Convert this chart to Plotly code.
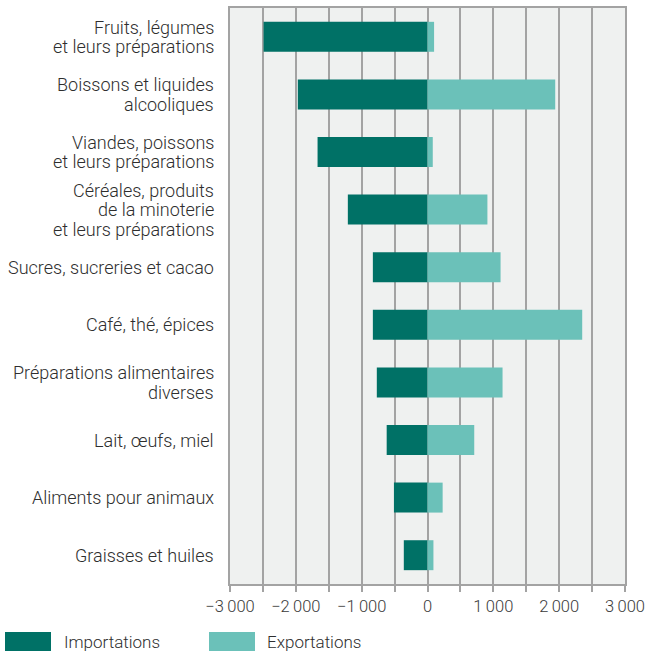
import plotly.graph_objects as go

categories = [
    "Fruits, légumes\net leurs préparations",
    "Boissons et liquides\nalcooliques",
    "Viandes, poissons\net leurs préparations",
    "Céréales, produits\nde la minoterie\net leurs préparations",
    "Sucres, sucreries et cacao",
    "Café, thé, épices",
    "Préparations alimentaires\ndiverses",
    "Lait, œufs, miel",
    "Aliments pour animaux",
    "Graisses et huiles",
]
importations = [-2490, -1970, -1670, -1210, -830, -830, -770, -620, -510, -360]
exportations = [100, 1940, 80, 910, 1110, 2350, 1140, 710, 230, 90]

tick_vals = [-3000, -2500, -2000, -1500, -1000, -500, 0, 500, 1000, 1500, 2000, 2500, 3000]
tick_text = ["−3\u2009000", "", "−2\u2009000", "", "−1\u2009000", "", "0", "",
             "1\u2009000", "", "2\u2009000", "", "3\u2009000"]

IMP = "#007166"
EXP = "#6bc1b9"
GRID = "#a3a3a3"
TXT = "#2e2e2e"

PL, PR, PT, PB = 230, 625, 8, 584  # plot area in page px
W, H = 648, 651

fig = go.Figure()
fig.add_trace(go.Bar(y=categories, x=importations, orientation="h", name="Importations",
                     marker=dict(color=IMP, line=dict(width=0)), width=0.52))
fig.add_trace(go.Bar(y=categories, x=exportations, orientation="h", name="Exportations",
                     marker=dict(color=EXP, line=dict(width=0)), width=0.52))

fig.update_layout(
    width=W, height=H,
    barmode="relative",
    showlegend=False,
    paper_bgcolor="white",
    plot_bgcolor="#eff1f0",
    margin=dict(l=PL, r=W - PR, t=PT, b=H - PB, pad=0),
    font=dict(family="Roboto, sans-serif", size=16, color=TXT, weight=300),
    xaxis=dict(
        range=[-3000, 3000],
        tickvals=tick_vals, ticktext=tick_text,
        showgrid=True, gridcolor=GRID, gridwidth=1.5,
        zeroline=False, automargin=False,
        showline=True, linecolor=GRID, linewidth=2, mirror=True,
        ticks="outside", ticklen=6, tickcolor=GRID, tickwidth=1.5,
        tickfont=dict(size=16.5, color="#3a3a3a", weight=300),
    ),
    yaxis=dict(
        autorange="reversed",
        showgrid=False, zeroline=False, automargin=False,
        showline=True, linecolor=GRID, linewidth=2, mirror=True,
        ticks="", showticklabels=False,
    ),
)

def px_x(p):
    return (p - PL) / (PR - PL)

def px_y(p):
    return (PB - p) / (PB - PT)

# category labels, line by line (tighter line spacing than plotly's default)
LINE = 19.5
for cat in categories:
    lines = cat.split("\n")
    n = len(lines)
    for i, ln in enumerate(lines):
        fig.add_annotation(text=ln, xref="paper", yref="y", x=px_x(216), y=cat,
                           xanchor="right", yanchor="middle", showarrow=False,
                           yshift=((n - 1) / 2 - i) * LINE,
                           font=dict(size=18, color=TXT, weight=300))

# legend drawn as shapes + text
fig.add_shape(type="rect", xref="paper", yref="paper",
              x0=px_x(5), x1=px_x(51), y0=px_y(632), y1=px_y(660),
              fillcolor=IMP, line=dict(width=0))
fig.add_shape(type="rect", xref="paper", yref="paper",
              x0=px_x(209), x1=px_x(255), y0=px_y(632), y1=px_y(660),
              fillcolor=EXP, line=dict(width=0))
fig.add_annotation(text="Importations", xref="paper", yref="paper",
                   x=px_x(62), y=px_y(642), xanchor="left", yanchor="middle",
                   showarrow=False, font=dict(size=17, color=TXT, weight=300))
fig.add_annotation(text="Exportations", xref="paper", yref="paper",
                   x=px_x(265), y=px_y(642), xanchor="left", yanchor="middle",
                   showarrow=False, font=dict(size=17, color=TXT, weight=300))

fig.write_html("out.html",
               config={"displayModeBar": False},
               post_script="document.body.style.margin='0';document.body.style.overflow='hidden';")
